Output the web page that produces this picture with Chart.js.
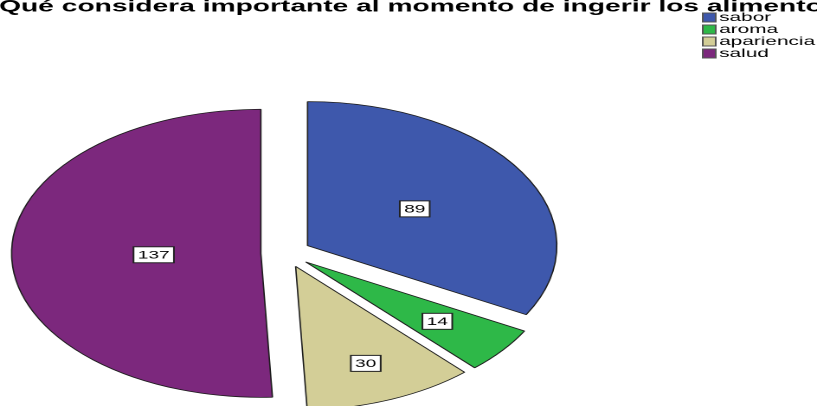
<!DOCTYPE html>
<html lang="es">
<head>
    <meta charset="UTF-8">
    <title>Importancia al ingerir los alimentos</title>
    <script src="https://cdn.jsdelivr.net/npm/chart.js"></script>
    <style>
        html, body {
            margin: 0;
            padding: 0;
            background: #ffffff;
            overflow: hidden;
        }
        /* el gráfico original está estirado en horizontal, igual que aquí */
        #lienzo {
            width: 472px;
            height: 406px;
            transform: scale(1.7309, 1);
            transform-origin: 0 0;
        }
    </style>
</head>
<body>
    <div id="lienzo"><canvas id="grafico"></canvas></div>

    <script>
        // Datos del gráfico
        const titulo = '¿Qué considera importante al momento de ingerir los alimentos?';
        const categorias = ['sabor', 'aroma', 'apariencia', 'salud'];
        const frecuencias = [89, 14, 30, 137];
        const colores = ['#3E58AC', '#2EB848', '#D3CE97', '#7C287D'];

        const fuente = '"Liberation Sans", Arial, sans-serif';

        // Porciones separadas del centro (sin agrandar el radio)
        const porcionesSeparadas = {
            id: 'porcionesSeparadas',
            beforeDatasetDraw(chart, args, opts) {
                const ctx = chart.ctx;
                args.meta.data.forEach(arc => {
                    const medio = (arc.startAngle + arc.endAngle) / 2;
                    ctx.save();
                    ctx.translate(Math.cos(medio) * opts.distancia, Math.sin(medio) * opts.distancia);
                    arc.draw(ctx, chart.chartArea);
                    ctx.restore();
                });
                return false;
            },
            afterDatasetsDraw(chart, args, opts) {
                const ctx = chart.ctx;
                const meta = chart.getDatasetMeta(0);
                const valores = chart.data.datasets[0].data;
                ctx.save();
                ctx.font = '11px ' + fuente;
                ctx.textAlign = 'center';
                ctx.textBaseline = 'middle';
                meta.data.forEach((arc, i) => {
                    const medio = (arc.startAngle + arc.endAngle) / 2;
                    const d = opts.distancia + opts.profundidad[i] * arc.outerRadius;
                    const x = arc.x + Math.cos(medio) * d;
                    const y = arc.y + Math.sin(medio) * d;
                    const texto = String(valores[i]);
                    const w = ctx.measureText(texto).width + 5;
                    const h = 16;
                    ctx.fillStyle = '#ffffff';
                    ctx.fillRect(x - w / 2, y - h / 2, w, h);
                    ctx.strokeStyle = '#222222';
                    ctx.lineWidth = 1;
                    ctx.strokeRect(x - w / 2, y - h / 2, w, h);
                    ctx.fillStyle = '#000000';
                    ctx.fillText(texto, x, y + 0.5);
                });
                ctx.restore();
            }
        };

        // Título y leyenda dibujados como en SPSS
        const tituloLeyenda = {
            id: 'tituloLeyenda',
            afterDraw(chart, args, opts) {
                const ctx = chart.ctx;
                ctx.save();
                ctx.fillStyle = '#000000';
                ctx.font = 'bold 16.3px ' + fuente;
                ctx.textAlign = 'left';
                ctx.textBaseline = 'alphabetic';
                ctx.fillText(titulo, opts.tituloX, opts.tituloY);

                ctx.font = '12px ' + fuente;
                ctx.textBaseline = 'middle';
                chart.data.labels.forEach((etiqueta, i) => {
                    const y = opts.leyendaY + i * opts.fila;
                    ctx.fillStyle = chart.data.datasets[0].backgroundColor[i];
                    ctx.fillRect(opts.leyendaX, y - 4.5, 7.5, 9);
                    ctx.strokeStyle = '#555555';
                    ctx.lineWidth = 1;
                    ctx.strokeRect(opts.leyendaX, y - 4.5, 7.5, 9);
                    ctx.fillStyle = '#000000';
                    ctx.fillText(etiqueta, opts.leyendaX + 9.5, y);
                });
                ctx.restore();
            }
        };

        new Chart(document.getElementById('grafico'), {
            type: 'pie',
            data: {
                labels: categorias,
                datasets: [{
                    data: frecuencias,
                    backgroundColor: colores,
                    borderColor: '#1c1c1c',
                    borderWidth: 0.8,
                    radius: 144
                }]
            },
            options: {
                responsive: true,
                maintainAspectRatio: false,
                animation: false,
                devicePixelRatio: 2,
                layout: {
                    padding: { left: 0, right: 141.6, top: 100, bottom: 0 }
                },
                plugins: {
                    legend: { display: false },
                    title: { display: false },
                    tooltip: { enabled: false },
                    porcionesSeparadas: {
                        distancia: 14.5,
                        profundidad: [0.5, 0.67, 0.73, 0.43]
                    },
                    tituloLeyenda: {
                        tituloX: -10.5,
                        tituloY: 11.5,
                        leyendaX: 406,
                        leyendaY: 17.5,
                        fila: 12
                    }
                }
            },
            plugins: [porcionesSeparadas, tituloLeyenda]
        });
    </script>
</body>
</html>
